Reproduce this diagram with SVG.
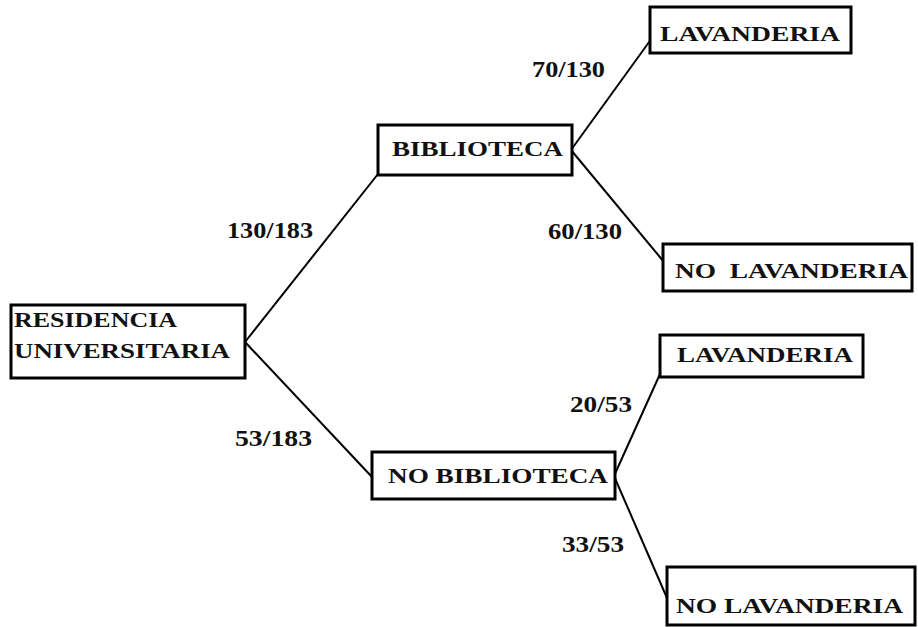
<svg xmlns="http://www.w3.org/2000/svg" width="918" height="627" viewBox="0 0 918 627">
<style>
.box{fill:#fff;stroke:#000;stroke-width:3}
.t{font-family:"Liberation Serif","Times New Roman",serif;font-size:22px;font-weight:bold;fill:#111}
.lb{font-family:"Liberation Serif","Times New Roman",serif;font-size:23px;font-weight:bold;fill:#111}
.ln{stroke:#000;stroke-width:2;fill:none}
</style>
<rect width="918" height="627" fill="#fff"/>
<g id="connectors">
<line class="ln" x1="245" y1="342" x2="378" y2="174"/>
<line class="ln" x1="245" y1="342" x2="372" y2="477"/>
<line class="ln" x1="571" y1="150" x2="652" y2="38"/>
<line class="ln" x1="571" y1="150" x2="664" y2="262"/>
<line class="ln" x1="614" y1="476" x2="660" y2="374"/>
<line class="ln" x1="614" y1="476" x2="667" y2="598"/>
<text class="lb" x="227" y="238" textLength="86" lengthAdjust="spacingAndGlyphs">130/183</text>
<text class="lb" x="235" y="446" textLength="77" lengthAdjust="spacingAndGlyphs">53/183</text>
<text class="lb" x="532" y="77" textLength="73" lengthAdjust="spacingAndGlyphs">70/130</text>
<text class="lb" x="548" y="239" textLength="74" lengthAdjust="spacingAndGlyphs">60/130</text>
<text class="lb" x="570" y="412" textLength="62" lengthAdjust="spacingAndGlyphs">20/53</text>
<text class="lb" x="562" y="552" textLength="62" lengthAdjust="spacingAndGlyphs">33/53</text>
</g>
<g id="residencia">
<rect class="box" x="11" y="305" width="234" height="73"/>
<text class="t" x="14" y="327" textLength="163" lengthAdjust="spacingAndGlyphs">RESIDENCIA</text>
<text class="t" x="14" y="358" textLength="216" lengthAdjust="spacingAndGlyphs">UNIVERSITARIA</text>
</g>
<g id="biblioteca">
<rect class="box" x="378" y="125" width="194" height="50"/>
<text class="t" x="392" y="156" textLength="171" lengthAdjust="spacingAndGlyphs">BIBLIOTECA</text>
</g>
<g id="no-biblioteca">
<rect class="box" x="372" y="452" width="243" height="47"/>
<text class="t" x="388" y="483" textLength="220" lengthAdjust="spacingAndGlyphs">NO BIBLIOTECA</text>
</g>
<g id="lavanderia-1">
<rect class="box" x="650" y="7" width="201" height="46"/>
<text class="t" x="660" y="41" textLength="180" lengthAdjust="spacingAndGlyphs">LAVANDERIA</text>
</g>
<g id="no-lavanderia-1">
<rect class="box" x="663" y="244" width="249" height="47"/>
<text class="t" x="675" y="278" textLength="233" lengthAdjust="spacingAndGlyphs" xml:space="preserve">NO  LAVANDERIA</text>
</g>
<g id="lavanderia-2">
<rect class="box" x="660" y="335" width="203" height="42"/>
<text class="t" x="677" y="362" textLength="176" lengthAdjust="spacingAndGlyphs">LAVANDERIA</text>
</g>
<g id="no-lavanderia-2">
<rect class="box" x="667" y="567" width="248" height="58"/>
<text class="t" x="676" y="613" textLength="227" lengthAdjust="spacingAndGlyphs">NO LAVANDERIA</text>
</g>
</svg>
